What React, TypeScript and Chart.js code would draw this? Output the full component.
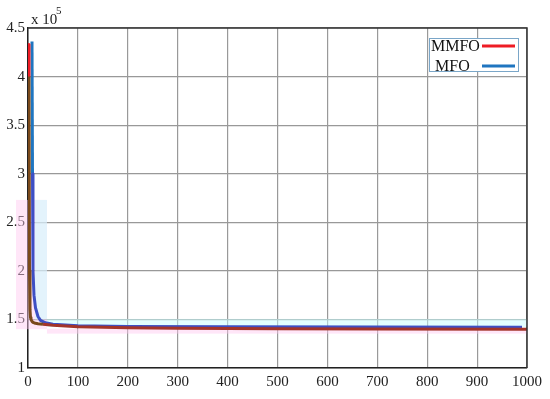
import React, { useEffect, useRef } from "react";
import { Chart, registerables } from "chart.js";

Chart.register(...registerables);

// Iterations (x) and best cost values for each algorithm
const mmfoX = [1, 2, 3, 4, 5, 6, 8, 10, 15, 20, 30, 50, 100, 200, 300, 500, 700, 1000];
const mmfoY = [433000, 400000, 200000, 160000, 152000, 150000, 148000, 147000, 146000, 145500, 145000, 144000, 142500, 141500, 141000, 140500, 140200, 140000];
const mfoX = [8, 9, 10, 12, 15, 20, 25, 35, 50, 100, 200, 400, 700, 990];
const mfoY = [436000, 300000, 200000, 175000, 162000, 153000, 149000, 146500, 145000, 143500, 142800, 142400, 142200, 142000];

const xTicks = [0, 100, 200, 300, 400, 500, 600, 700, 800, 900, 1000];
const yTicks = [100000, 150000, 200000, 250000, 300000, 350000, 400000, 450000];
const legendLabels = ["MMFO", " MFO"];
const legendColors = ["#ee1c25", "#1f75c0"];

const FONT = "'Liberation Serif', 'DejaVu Serif', serif";

export default function App() {
  const ref = useRef<HTMLCanvasElement | null>(null);

  useEffect(() => {
    document.body.style.margin = "0";
    const canvas = ref.current;
    if (!canvas) return;

    const decor = {
      id: "decor",
      beforeDatasetsDraw(chart: any) {
        const { ctx, chartArea: a, scales } = chart;
        const xs = scales.x, ys = scales.y;
        ctx.save();
        // faint colour bands around the curves
        ctx.fillStyle = "rgba(255,200,240,0.45)";
        ctx.fillRect(16, ys.getPixelForValue(273000), xs.getPixelForValue(38) - 16, ys.getPixelForValue(140000) - ys.getPixelForValue(273000));
        ctx.fillRect(xs.getPixelForValue(38), ys.getPixelForValue(140500), a.right - xs.getPixelForValue(38), 5);
        ctx.fillStyle = "rgba(200,255,255,0.5)";
        ctx.fillRect(xs.getPixelForValue(14), ys.getPixelForValue(273000), xs.getPixelForValue(38) - xs.getPixelForValue(14), ys.getPixelForValue(150000) - ys.getPixelForValue(273000));
        ctx.fillRect(xs.getPixelForValue(38), ys.getPixelForValue(150500), a.right - xs.getPixelForValue(38), ys.getPixelForValue(142200) - ys.getPixelForValue(150500));
        ctx.restore();
      },
      afterDraw(chart: any) {
        const { ctx, chartArea: a } = chart;
        ctx.save();
        ctx.strokeStyle = "#333";
        ctx.lineWidth = 1.5;
        ctx.beginPath();
        ctx.moveTo(a.left, a.top);
        ctx.lineTo(a.right, a.top);
        ctx.lineTo(a.right, a.bottom);
        ctx.stroke();
        // exponent label
        ctx.fillStyle = "#222";
        ctx.textAlign = "left";
        ctx.textBaseline = "alphabetic";
        ctx.font = `15px ${FONT}`;
        ctx.fillText("x 10", 31, 24);
        ctx.font = `11px ${FONT}`;
        ctx.fillText("5", 56, 14);
        // legend
        const lx = 429, ly = 38, lw = 89, lh = 33;
        ctx.fillStyle = "#fff";
        ctx.fillRect(lx, ly, lw, lh);
        ctx.strokeStyle = "#7aa6c8";
        ctx.lineWidth = 1;
        ctx.strokeRect(lx + 0.5, ly + 0.5, lw, lh);
        ctx.font = `16px ${FONT}`;
        ctx.fillStyle = "#111";
        ctx.textBaseline = "middle";
        legendLabels.forEach((t, i) => {
          const y = ly + 8 + i * 20;
          ctx.fillText(t, lx + 2, y + 1);
          ctx.strokeStyle = legendColors[i];
          ctx.lineWidth = 3;
          ctx.beginPath();
          ctx.moveTo(lx + 53, y);
          ctx.lineTo(lx + 86, y);
          ctx.stroke();
        });
        ctx.restore();
      },
    };

    const chart = new Chart(canvas, {
      type: "line",
      data: {
        datasets: [
          {
            label: "MMFO",
            data: mmfoX.map((x, i) => ({ x, y: mmfoY[i] })),
            borderColor: "#ee1c25",
            borderWidth: 3,
            borderJoinStyle: "round",
            pointRadius: 0,
            tension: 0,
            segment: {
              borderColor: (c: any) => (c.p1.parsed.y > 273000 ? "#ee1c25" : c.p1.parsed.x < 40 ? "#7a4a1c" : "#a3352a"),
            },
          },
          {
            label: "MFO",
            data: mfoX.map((x, i) => ({ x, y: mfoY[i] })),
            borderColor: "#1f75c0",
            borderWidth: 3,
            borderJoinStyle: "round",
            pointRadius: 0,
            tension: 0,
            segment: {
              borderColor: (c: any) => (c.p1.parsed.y > 273000 ? "#1f75c0" : "#3d4fc4"),
            },
          },
        ],
      },
      options: {
        animation: false,
        responsive: false,
        layout: { padding: { top: 28, right: 23, left: 0, bottom: 0 } },
        plugins: { legend: { display: false }, tooltip: { enabled: false } },
        scales: {
          x: {
            type: "linear",
            min: 0,
            max: 1000,
            afterBuildTicks: (s: any) => { s.ticks = xTicks.map((v) => ({ value: v })); },
            afterFit: (s: any) => { s.height = 31; },
            ticks: {
              font: { family: FONT, size: 15 },
              color: "#222",
              padding: 5,
              maxRotation: 0,
              callback: (v: any) => String(v),
            },
            grid: { color: "#999", lineWidth: 1.2, drawTicks: false },
            border: { display: true, color: "#222", width: 1.5 },
          },
          y: {
            type: "linear",
            min: 100000,
            max: 450000,
            afterBuildTicks: (s: any) => { s.ticks = yTicks.map((v) => ({ value: v })); },
            afterFit: (s: any) => { s.width = 28; },
            ticks: {
              font: { family: FONT, size: 15 },
              color: "#222",
              padding: 3,
              callback: (v: any) => String(Number(v) / 100000),
            },
            grid: { color: "#999", lineWidth: 1.2, drawTicks: false },
            border: { display: true, color: "#222", width: 1.5 },
          },
        },
      },
      plugins: [decor],
    });
    return () => chart.destroy();
  }, []);

  return <canvas ref={ref} width={550} height={399} style={{ display: "block", width: 550, height: 399 }} />;
}
